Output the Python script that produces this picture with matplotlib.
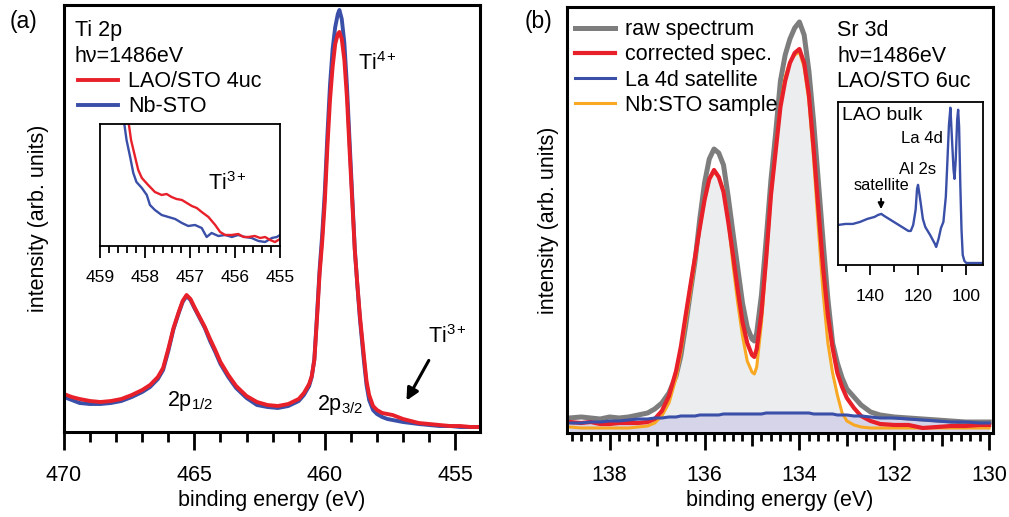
import matplotlib.pyplot as plt
from matplotlib.ticker import MultipleLocator, FuncFormatter

plt.rcParams['font.family'] = ['Liberation Sans', 'DejaVu Sans']
plt.rcParams['mathtext.fontset'] = 'custom'
plt.rcParams['mathtext.rm'] = 'Liberation Sans'
plt.rcParams['mathtext.it'] = 'Liberation Sans:italic'
plt.rcParams['mathtext.bf'] = 'Liberation Sans:bold'

RED = '#e8202a'
BLUE = '#3a4fa8'
GREY = '#7d7d7d'
ORANGE = '#f8a823'
FS = 15.5

# (a) Ti 2p, binding energy (eV) and intensity (arb. units)
e_ti = [470.0, 469.7, 469.4, 469.0, 468.6, 468.2, 467.8, 467.4, 467.0, 466.7,
        466.4, 466.2, 466.0, 465.8, 465.6, 465.45, 465.3, 465.15, 465.0, 464.8,
        464.6, 464.4, 464.2, 464.0, 463.7, 463.4, 463.0, 462.6, 462.2, 461.8,
        461.4, 461.0, 460.8, 460.6, 460.5, 460.4, 460.3, 460.2, 460.1, 460.0,
        459.9, 459.8, 459.7, 459.6, 459.5, 459.44, 459.35, 459.25, 459.15, 459.05,
        458.95, 458.85, 458.75, 458.65, 458.5, 458.4, 458.3, 458.15, 458.0, 457.8,
        457.6, 457.4, 457.2, 457.0, 456.7, 456.4, 456.0, 455.6, 455.2, 454.8,
        454.4, 454.05]
ti_lao = [38, 35, 33, 31, 30, 31, 33, 37, 42, 47,
          55, 64, 83, 104, 120, 131, 137, 133, 125, 115,
          105, 93, 82, 70, 57, 46, 36, 30, 27, 26,
          28, 33, 39, 48, 56, 72, 113, 158, 190, 230,
          285, 332, 365, 388, 398, 400, 393, 372, 334, 282,
          232, 182, 147, 115, 76, 51, 37, 26, 22, 19,
          18, 17, 15, 13, 11, 9, 8, 7, 6, 6,
          5, 5]
ti_nb = [35, 32, 29, 28, 28, 29, 31, 35, 40, 45,
         53, 62, 81, 103, 119, 130, 136, 132, 124, 114,
         104, 91, 80, 68, 55, 44, 34, 27, 25, 24,
         26, 31, 37, 46, 55, 73, 116, 162, 197, 240,
         297, 347, 383, 405, 418, 422, 413, 389, 346, 291,
         237, 183, 146, 112, 71, 47, 32, 22, 18, 15,
         13, 12, 11, 10, 9, 8, 7, 6, 6, 5,
         5, 5]

# inset of (a): Ti3+ tail
e_tail_lao = [458.40, 458.31, 458.22, 458.15, 458.07, 457.93, 457.78, 457.63, 457.52, 457.41,
              457.30, 457.18, 457.07, 456.96, 456.85, 456.74, 456.59, 456.44, 456.33, 456.22,
              456.07, 455.93, 455.81, 455.70, 455.56, 455.44, 455.33, 455.22, 455.11, 455.00]
tail_lao = [135, 106, 89, 76, 68, 61, 54, 51, 52, 49,
            47, 46, 43, 40, 38, 34, 29, 21, 14, 11,
            11, 12, 9, 9, 10, 8, 9, 6, 4, 7]
e_tail_nb = [458.50, 458.41, 458.33, 458.26, 458.19, 458.07, 457.96, 457.89, 457.78, 457.63,
             457.48, 457.33, 457.18, 457.04, 456.89, 456.74, 456.63, 456.52, 456.37, 456.22,
             456.07, 455.93, 455.78, 455.63, 455.48, 455.33, 455.18, 455.07, 455.00]
tail_nb = [135, 106, 89, 73, 64, 58, 51, 41, 36, 31,
           29, 27, 23, 20, 21, 18, 9, 13, 10, 11,
           9, 11, 9, 8, 5, 4, 8, 9, 11]

# (b) Sr 3d
e_sr = [138.85, 138.6, 138.4, 138.2, 138.0, 137.8, 137.6, 137.4, 137.2, 137.05,
        136.9, 136.75, 136.6, 136.5, 136.4, 136.3, 136.2, 136.1, 136.0, 135.9,
        135.8, 135.7, 135.6, 135.5, 135.4, 135.3, 135.2, 135.1, 135.0, 134.95,
        134.9, 134.8, 134.7, 134.6, 134.5, 134.4, 134.3, 134.2, 134.1, 134.0,
        133.9, 133.8, 133.7, 133.6, 133.5, 133.4, 133.3, 133.2, 133.1, 133.0,
        132.85, 132.7, 132.5, 132.3, 132.0, 131.7, 131.4, 131.1, 130.8, 130.5,
        130.2, 130.0]
sr_raw = [15, 16, 15, 14, 16, 15, 16, 18, 20, 24,
          30, 40, 57, 77, 107, 140, 172, 214, 250, 274,
          284, 280, 268, 236, 200, 165, 130, 106, 94, 92,
          100, 138, 194, 253, 300, 352, 378, 394, 405, 411,
          398, 362, 311, 251, 191, 134, 90, 70, 55, 44,
          36, 28, 21, 18, 16, 15, 14, 13, 12, 11,
          11, 11]
sr_corr = [11, 10, 11, 9, 9, 10, 10, 10, 11, 14,
           22, 37, 62, 86, 117, 147, 176, 205, 233, 254,
           263, 256, 241, 211, 178, 143, 111, 90, 78, 76,
           84, 120, 175, 238, 282, 326, 352, 370, 380, 384,
           370, 338, 284, 224, 165, 118, 85, 60, 46, 35,
           25, 17, 12, 9, 8, 8, 5, 6, 7, 7,
           8, 8]
sr_sat = [10, 10, 11, 11, 12, 12, 13, 14, 14, 15,
          15, 16, 16, 17, 17, 17, 17, 18, 18, 18,
          18, 18, 19, 19, 19, 19, 19, 19, 19, 19,
          19, 19, 20, 20, 20, 20, 20, 20, 20, 20,
          20, 20, 19, 19, 19, 19, 19, 18, 18, 18,
          17, 17, 16, 15, 15, 14, 13, 12, 11, 11,
          10, 10]
sr_nb = [6, 5, 5, 5, 5, 5, 5, 6, 7, 10,
         17, 30, 55, 80, 110, 140, 172, 205, 232, 253,
         261, 256, 243, 212, 168, 130, 97, 72, 61, 59,
         66, 110, 172, 236, 283, 328, 356, 371, 378, 381,
         366, 332, 274, 204, 140, 90, 60, 38, 20, 12,
         8, 6, 5, 5, 5, 5, 5, 5, 5, 5,
         5, 5]

# inset of (b): LAO bulk survey
e_bulk = [153.0, 150.0, 147.0, 144.0, 141.0, 138.0, 136.5, 135.2, 134.0, 132.0,
          130.0, 128.0, 126.0, 124.0, 123.0, 122.0, 121.0, 120.4, 120.0, 119.5,
          118.9, 118.0, 117.0, 115.0, 113.0, 112.5, 111.5, 110.5, 109.5, 108.5,
          108.0, 107.2, 106.6, 106.0, 105.3, 104.9, 104.4, 103.8, 103.4, 103.0,
          102.5, 102.0, 101.5, 100.8, 100.0, 97.0, 93.0]
bulk = [40, 41, 41, 43, 46, 48, 50, 51, 49, 46,
        43, 40, 37, 34, 34, 40, 55, 76, 80, 72,
        62, 46, 38, 30, 21, 18, 26, 37, 43, 68,
        95, 140, 157, 128, 95, 86, 105, 145, 155, 138,
        80, 35, 10, 4, 2, 2, 2]


def style(ax, lw):
    for s in ax.spines.values():
        s.set_linewidth(lw)
    ax.tick_params(axis='y', left=False, labelleft=False)
    ax.tick_params(axis='x', which='both', direction='out', top=False)


fig = plt.figure(figsize=(10.09, 5.17), dpi=100)

# ---------------- panel (a) ----------------
ax1 = fig.add_axes([0.0634, 0.1644, 0.4123, 0.826])
l_nb, = ax1.plot(e_ti, ti_nb, color=BLUE, lw=2.8, label='Nb-STO')
l_lao, = ax1.plot(e_ti, ti_lao, color=RED, lw=2.8, label='LAO/STO 4uc')
ax1.set_xlim(470, 454.05)
ax1.set_ylim(0, 427)
style(ax1, 2.2)
ax1.xaxis.set_major_locator(MultipleLocator(5))
ax1.xaxis.set_minor_locator(MultipleLocator(1))
ax1.tick_params(axis='x', which='major', length=13, width=2, labelsize=FS, pad=11)
ax1.tick_params(axis='x', which='minor', length=7, width=2)
ax1.set_xlabel('binding energy (eV)', fontsize=FS)
ax1.xaxis.set_label_coords(0.5, -0.135)
ax1.set_ylabel('intensity (arb. units)', fontsize=FS)
ax1.yaxis.set_label_coords(-0.036, 0.5)

ax1.text(0.026, 0.928, 'Ti 2p', transform=ax1.transAxes, fontsize=FS)
ax1.text(0.026, 0.866, 'h\u03bd=1486eV', transform=ax1.transAxes, fontsize=FS)
ax1.legend(handles=[l_lao, l_nb], loc='upper left', bbox_to_anchor=(0.034, 0.845),
           frameon=False, fontsize=FS, handlelength=1.86, handletextpad=0.45,
           labelspacing=0.19, borderpad=0, borderaxespad=0)
ax1.text(458.72, 362, r'Ti$^{\mathregular{4+}}$', fontsize=FS, va='baseline')
ax1.text(465.17, 26, r'2p$_{\mathregular{1/2}}$', fontsize=FS, ha='center', va='baseline')
ax1.text(459.41, 22, r'2p$_{\mathregular{3/2}}$', fontsize=FS, ha='center', va='baseline')
ax1.text(456.04, 89, r'Ti$^{\mathregular{3+}}$', fontsize=FS, va='baseline')
ax1.annotate('', xy=(456.92, 29), xytext=(455.96, 74),
             arrowprops=dict(arrowstyle='-|>', color='k', lw=2.2, mutation_scale=18))

ins1 = fig.add_axes([0.0991, 0.5242, 0.1784, 0.236])
ins1.plot(e_tail_nb, tail_nb, color=BLUE, lw=1.7)
ins1.plot(e_tail_lao, tail_lao, color=RED, lw=1.7)
ins1.set_xlim(459, 455)
ins1.set_ylim(0, 122)
style(ins1, 1.3)
ins1.xaxis.set_major_locator(MultipleLocator(1))
ins1.xaxis.set_minor_locator(MultipleLocator(0.2))
ins1.tick_params(axis='x', which='major', length=8.5, width=1.3, labelsize=12.5, pad=9)
ins1.tick_params(axis='x', which='minor', length=5, width=1.3)
ins1.text(0.6, 0.459, r'Ti$^{\mathregular{3+}}$', transform=ins1.transAxes, fontsize=FS)

# ---------------- panel (b) ----------------
ax2 = fig.add_axes([0.5619, 0.1625, 0.4222, 0.824])
ax2.fill_between(e_sr, 0, sr_sat, color='#d6d4e9', lw=0)
ax2.fill_between(e_sr, sr_sat, sr_nb, where=[n > s for n, s in zip(sr_nb, sr_sat)],
                 interpolate=True, color='#ebedef', lw=0)
l_raw, = ax2.plot(e_sr, sr_raw, color=GREY, lw=3.6, label='raw spectrum')
l_nbs, = ax2.plot(e_sr, sr_nb, color=ORANGE, lw=2.2, label='Nb:STO sample')
l_cor, = ax2.plot(e_sr, sr_corr, color=RED, lw=3.0, label='corrected spec.')
l_sat, = ax2.plot(e_sr, sr_sat, color=BLUE, lw=2.2, label='La 4d satellite')
ax2.set_xlim(138.9, 129.92)
ax2.set_ylim(0, 426)
style(ax2, 2.2)
ax2.xaxis.set_major_locator(MultipleLocator(1))
ax2.xaxis.set_minor_locator(MultipleLocator(0.2))
ax2.xaxis.set_major_formatter(FuncFormatter(lambda v, p: '%d' % round(v) if round(v) % 2 == 0 else ''))
ax2.tick_params(axis='x', which='major', length=12, width=2, labelsize=FS, pad=11)
ax2.tick_params(axis='x', which='minor', length=6, width=2)
ax2.set_xlabel('binding energy (eV)', fontsize=FS)
ax2.xaxis.set_label_coords(0.5, -0.135)
ax2.set_ylabel('intensity (arb. units)', fontsize=FS)
ax2.yaxis.set_label_coords(-0.019, 0.5)
ax2.legend(handles=[l_raw, l_cor, l_sat, l_nbs], loc='upper left', bbox_to_anchor=(0.019, 0.971),
           frameon=False, fontsize=FS, handlelength=1.86, handletextpad=0.45,
           labelspacing=0.19, borderpad=0, borderaxespad=0)
ax2.text(0.634, 0.933, 'Sr 3d', transform=ax2.transAxes, fontsize=FS)
ax2.text(0.634, 0.872, 'h\u03bd=1486eV', transform=ax2.transAxes, fontsize=FS)
ax2.text(0.634, 0.813, 'LAO/STO 6uc', transform=ax2.transAxes, fontsize=FS)

fig.canvas.draw()
for t in ax2.xaxis.get_major_ticks():
    if round(t.get_loc()) % 2 != 0:
        t.tick1line.set_markersize(9)

ins2 = fig.add_axes([0.8308, 0.4874, 0.1437, 0.3159])
ins2.plot(e_bulk, bulk, color=BLUE, lw=1.7)
ins2.set_xlim(153, 93)
ins2.set_ylim(0, 163)
style(ins2, 1.3)
ins2.xaxis.set_major_locator(MultipleLocator(20))
ins2.xaxis.set_minor_locator(MultipleLocator(10))
ins2.tick_params(axis='x', which='major', length=7, width=1.3, labelsize=12.5, pad=10)
ins2.tick_params(axis='x', which='minor', length=5, width=1.3)
ins2.text(0.026, 0.918, 'LAO bulk', transform=ins2.transAxes, fontsize=14, va='center')
ins2.text(0.577, 0.772, 'La 4d', transform=ins2.transAxes, fontsize=12, ha='center', va='center')
ins2.text(0.55, 0.582, 'Al 2s', transform=ins2.transAxes, fontsize=12, ha='center', va='center')
ins2.text(0.30, 0.484, 'satellite', transform=ins2.transAxes, fontsize=11.7, ha='center', va='center')
ins2.annotate('', xy=(135.3, 53), xytext=(135.3, 69),
              arrowprops=dict(arrowstyle='-|>', color='k', lw=1.3, mutation_scale=9))

fig.text(0.0099, 0.946, '(a)', fontsize=16.5)
fig.text(0.5203, 0.946, '(b)', fontsize=16.5)

fig.savefig('out.png', dpi=100)
